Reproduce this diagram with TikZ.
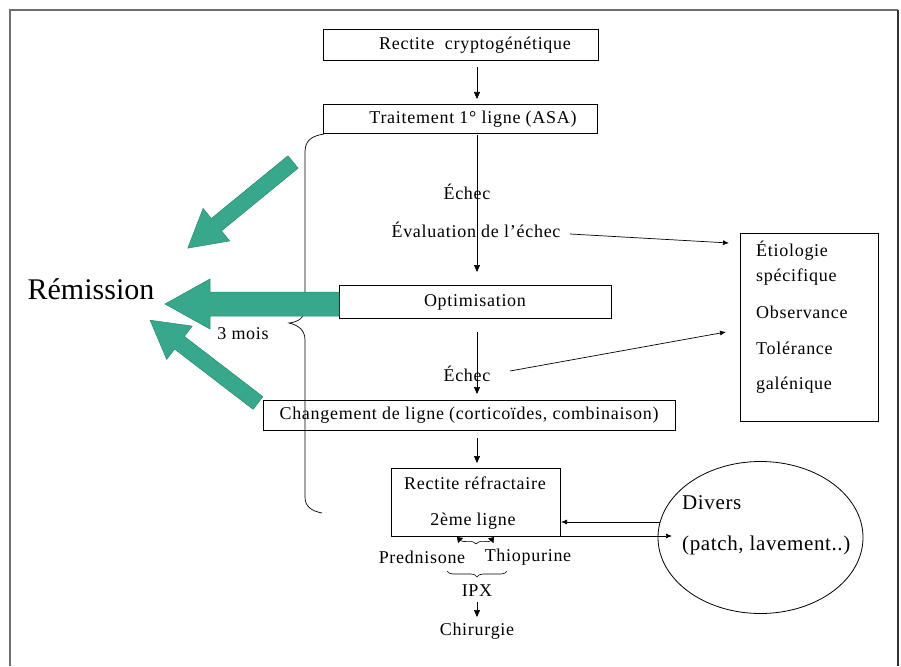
\documentclass[tikz,border=0pt]{standalone}
\usepackage{fontspec}
\setmainfont[LetterSpace=4]{Liberation Serif}
\newfontfamily\plainserif[LetterSpace=3]{Liberation Serif}
\newfontfamily\bigserif{Liberation Serif}
\usetikzlibrary{arrows.meta,shapes.geometric,decorations.pathreplacing}
\definecolor{arrowgreen}{RGB}{56,168,140}
\definecolor{arrowedge}{RGB}{40,135,110}
\definecolor{framegray}{RGB}{110,110,110}
\begin{document}
\begin{tikzpicture}[x=1pt,y=-1pt,
  box/.style={draw=black,line width=0.9pt,rectangle,inner sep=0pt},
  lbl/.style={font=\fontsize{18}{20}\selectfont,inner sep=0pt,anchor=center},
  lleft/.style={font=\fontsize{18}{20}\selectfont,inner sep=0pt,anchor=west},
  divtxt/.style={font=\plainserif\fontsize{21}{24}\selectfont,inner sep=0pt,anchor=west},
  flow/.style={line width=0.7pt,-{Triangle[length=7pt,width=6pt]}},
  link/.style={line width=0.7pt,-{Latex[length=6pt,width=5pt]}},
  fat/.style={fill=arrowgreen,draw=arrowedge,line width=0.5pt}
]
\useasboundingbox (0,0) rectangle (901,666);
% frame
\draw[framegray,line width=2pt] (10,666) -- (10,10) -- (898,10);
\draw[black!80,line width=2pt] (898,10) -- (898,666);

% boxes
\node[box,minimum width=275pt,minimum height=31pt] (b1) at (460.5,44.5) {};
\node[lbl] (t1) at (475,45) {Rectite\ \ cryptogénétique};
\node[box,minimum width=274pt,minimum height=29pt] (b2) at (460,118.5) {};
\node[lbl] (t2) at (473,119) {Traitement 1° ligne (ASA)};
\node[box,minimum width=272pt,minimum height=33pt] (b3) at (475,301.5) {};
\node[lbl] (t3) at (475,302) {Optimisation};
\node[box,minimum width=412pt,minimum height=30pt] (b4) at (469,415) {};
\node[lbl] (t4) at (469,415) {Changement de ligne (corticoïdes, combinaison)};
\node[box,minimum width=169pt,minimum height=68pt] (b5) at (475.5,502) {};
\node[lbl] (t5a) at (475,483) {Rectite réfractaire};
\node[lbl] (t5b) at (473,521) {2ème ligne};
\node[box,minimum width=138pt,minimum height=188pt] (etio) at (809,327) {};
\node[lleft] (e1) at (756,251) {Étiologie};
\node[lleft] (e2) at (756,277) {spécifique};
\node[lleft] (e3) at (756,312) {Observance};
\node[lleft] (e4) at (756,348) {Tolérance};
\node[lleft] (e5) at (756,385) {galénique};
\node[draw=black,line width=0.8pt,ellipse,minimum width=205pt,minimum height=152pt,inner sep=0pt] (div) at (760.5,537.5) {};
\node[divtxt] (d1) at (682,503) {Divers};
\node[divtxt] (d2) at (682,545) {(patch, lavement..)};

% texts
\node[lbl] (ech1) at (467,192) {Échec};
\node[lbl] (eval) at (476,230) {Évaluation de l’échec};
\node[lbl] (ech2) at (467,374) {Échec};
\node[font=\bigserif\fontsize{30}{32}\selectfont,inner sep=0pt] (rem) at (91,289) {Rémission};
\node[lbl] (mois) at (243,334) {3 mois};
\node[lbl] (pred) at (422,557) {Prednisone};
\node[lbl] (thio) at (528,557) {Thiopurine};
\node[lbl] (ipx) at (477,591) {IPX};
\node[lbl] (chir) at (477,631) {Chirurgie};

% main flow arrows
\coordinate (a1s) at (477,67);  \coordinate (a1e) at (477,99);
\coordinate (a2s) at (477,135); \coordinate (a2e) at (477,272);
\coordinate (a3s) at (477,332); \coordinate (a3e) at (477,394);
\coordinate (a4s) at (477,438); \coordinate (a4e) at (477,463);
\coordinate (a5s) at (477,602); \coordinate (a5e) at (477,617);
\draw[flow] (a1s) -- (a1e);
\draw[flow] (a2s) -- (a2e);
\draw[flow] (a3s) -- (a3e);
\draw[flow] (a4s) -- (a4e);
\draw[flow] (a5s) -- (a5e);

% links to etiologie box
\coordinate (l1s) at (570,234); \coordinate (l1e) at (729,243);
\coordinate (l2s) at (510,371); \coordinate (l2e) at (726,332);
\draw[link] (l1s) -- (l1e);
\draw[link] (l2s) -- (l2e);

% links with divers
\coordinate (dv1s) at (660,522); \coordinate (dv1e) at (561,522);
\coordinate (dv2s) at (560,536); \coordinate (dv2e) at (672,536);
\draw[link] (dv1s) -- (dv1e);
\draw[link] (dv2s) -- (dv2e);

% small arrows prednisone / thiopurine
\coordinate (pm) at (476,544);
\coordinate (pa) at (457,537);
\coordinate (pb) at (494,537);
\draw[line width=0.6pt,-{Triangle[length=5pt,width=7pt]}] (pm) .. controls (470,538) and (464,544) .. (pa);
\draw[line width=0.6pt,-{Triangle[length=5pt,width=7pt]}] (pm) .. controls (482,538) and (488,544) .. (pb);

% brace under prednisone / thiopurine
\draw[line width=0.6pt,decorate,decoration={brace,amplitude=6pt}] (507,571) -- (447,571);

% big brace
\draw[line width=0.7pt] (324,134) .. controls (311,136) and (305,141) .. (305,152) -- (305,308)
  .. controls (305,318) and (298,322) .. (289,323)
  .. controls (298,325) and (305,330) .. (305,340) -- (305,497)
  .. controls (305,507) and (312,511) .. (322,513);

% green arrows
\begin{scope}[shift={(293,162)},rotate=219.3]
\path[fat] (0,8) -- (99,8) -- (99,21) -- (136,0) -- (99,-21) -- (99,-8) -- (0,-8) -- cycle;
\end{scope}
\begin{scope}[shift={(339,304)},rotate=180]
\path[fat] (0,12) -- (129,12) -- (129,25) -- (174,0) -- (129,-25) -- (129,-12) -- (0,-12) -- cycle;
\end{scope}
\begin{scope}[shift={(258,403)},rotate=142.5]
\path[fat] (0,8) -- (99,8) -- (99,21) -- (136,0) -- (99,-21) -- (99,-8) -- (0,-8) -- cycle;
\end{scope}
\end{tikzpicture}
\end{document}
